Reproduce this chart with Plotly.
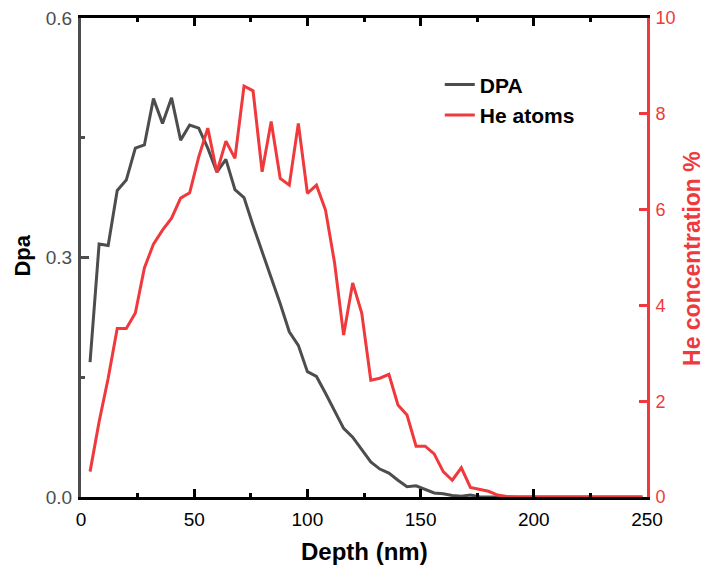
import plotly.graph_objects as go

depth_nm = [4, 8, 12, 16, 20, 24, 28, 32, 36, 40,
            44, 48, 52, 56, 60, 64, 68, 72, 76, 80,
            84, 88, 92, 96, 100, 104, 108, 112, 116, 120,
            124, 128, 132, 136, 140, 144, 148, 152, 156, 160,
            164, 168, 172, 176, 180, 184, 188, 192, 196, 200,
            204, 208, 212, 216, 220, 224, 228, 232, 236, 240,
            244, 248]

dpa = [0.169, 0.317, 0.315, 0.384, 0.397, 0.437, 0.441, 0.499, 0.468, 0.500,
       0.447, 0.466, 0.462, 0.437, 0.407, 0.423, 0.385, 0.375, 0.340, 0.307,
       0.276, 0.242, 0.207, 0.190, 0.157, 0.151, 0.130, 0.107, 0.086, 0.075,
       0.060, 0.044, 0.035, 0.030, 0.021, 0.013, 0.014, 0.009, 0.005, 0.004,
       0.002, 0.001, 0.0025, 0.0004, 0.0, 0.0, 0.0, 0.0, 0.0, 0.0,
       0.0, 0.0, 0.0, 0.0, 0.0, 0.0, 0.0, 0.0, 0.0, 0.0,
       0.0, 0.0]

he_conc = [0.53, 1.57, 2.48, 3.52, 3.52, 3.84, 4.78, 5.28, 5.57, 5.82,
           6.24, 6.35, 7.10, 7.70, 6.78, 7.43, 7.07, 8.58, 8.48, 6.79,
           7.84, 6.65, 6.51, 7.80, 6.34, 6.51, 5.99, 4.89, 3.38, 4.47,
           3.84, 2.44, 2.48, 2.56, 1.92, 1.71, 1.06, 1.06, 0.90, 0.53,
           0.35, 0.61, 0.20, 0.16, 0.12, 0.04, 0.01, 0.0, 0.0, 0.0,
           0.0, 0.0, 0.0, 0.0, 0.0, 0.0, 0.0, 0.0, 0.0, 0.0,
           0.0, 0.0]

x_ticks = [0, 50, 100, 150, 200, 250]
dpa_ticks = [0.0, 0.3, 0.6]
dpa_labels = ["0.0", "0.3", "0.6"]
he_ticks = [0, 2, 4, 6, 8, 10]

x_title = "Depth (nm)"
y_title = "Dpa"
y2_title = "He concentration %"

GREY = "#4d4d4d"
RED = "#f0393c"
FONT = "Arial, Liberation Sans, sans-serif"

# plot area in pixels (for placing free text)
L, R, T, B = 80.5, 647, 18, 497
PW, PH = R - L, B - T

fig = go.Figure()
fig.add_trace(go.Scatter(x=depth_nm, y=dpa, mode="lines", name="DPA",
                         line=dict(color=GREY, width=3)))
fig.add_trace(go.Scatter(x=depth_nm, y=he_conc, mode="lines", name="He atoms",
                         line=dict(color=RED, width=3), yaxis="y2"))

fig.update_layout(
    width=706, height=570,
    margin=dict(l=L, r=706 - R, t=T, b=570 - B, autoexpand=False),
    plot_bgcolor="white", paper_bgcolor="white",
    font=dict(family=FONT, size=19, color="black"),
    showlegend=True,
    legend=dict(x=(439.6 - L) / PW, y=0.903, xanchor="left", yanchor="top",
                bgcolor="rgba(0,0,0,0)",
                font=dict(family=FONT, size=21, color="black", weight="bold"),
                itemwidth=30, tracegroupgap=0),
    xaxis=dict(range=[0, 250], tickvals=x_ticks, ticktext=[str(v) for v in x_ticks],
               showgrid=False, zeroline=False, automargin=False,
               showline=True, linecolor="black", linewidth=3, mirror="ticks",
               ticks="inside", ticklen=8, tickwidth=2.5, tickcolor="black",
               minor=dict(ticks="inside", ticklen=4, tickwidth=2.5, tickcolor="black",
                          dtick=25, tick0=0),
               tickfont=dict(family=FONT, size=19, color="black"),
               ticklabelstandoff=3),
    yaxis=dict(range=[0, 0.6], tickvals=dpa_ticks, ticktext=dpa_labels,
               showgrid=False, zeroline=False, automargin=False,
               showline=True, linecolor=GREY, linewidth=3,
               ticks="inside", ticklen=8, tickwidth=2.5, tickcolor=GREY,
               minor=dict(ticks="inside", ticklen=4, tickwidth=2.5, tickcolor=GREY,
                          dtick=0.15, tick0=0),
               tickfont=dict(family=FONT, size=19, color=GREY),
               ticklabelstandoff=2),
    yaxis2=dict(range=[0, 10], tickvals=he_ticks, overlaying="y", side="right",
                showgrid=False, zeroline=False, automargin=False,
                showline=True, linecolor=RED, linewidth=3,
                ticks="inside", ticklen=8, tickwidth=2.5, tickcolor=RED,
                tickfont=dict(family=FONT, size=18, color=RED),
                ticklabelstandoff=2),
    annotations=[
        dict(text="<b>" + x_title + "</b>", xref="paper", yref="paper",
             x=0.5, y=(B - 551) / PH, xanchor="center", yanchor="middle", showarrow=False,
             font=dict(family=FONT, size=24, color="black")),
        dict(text="<b>" + y_title + "</b>", xref="paper", yref="paper",
             x=(21 - L) / PW, y=(B - 256) / PH, xanchor="center", yanchor="middle",
             textangle=-90, showarrow=False,
             font=dict(family=FONT, size=22, color="black")),
        dict(text="<b>" + y2_title + "</b>", xref="paper", yref="paper",
             x=(692 - L) / PW, y=(B - 258) / PH, xanchor="center", yanchor="middle",
             textangle=-90, showarrow=False,
             font=dict(family=FONT, size=23, color=RED)),
    ],
)

fig.write_html("out.html")
